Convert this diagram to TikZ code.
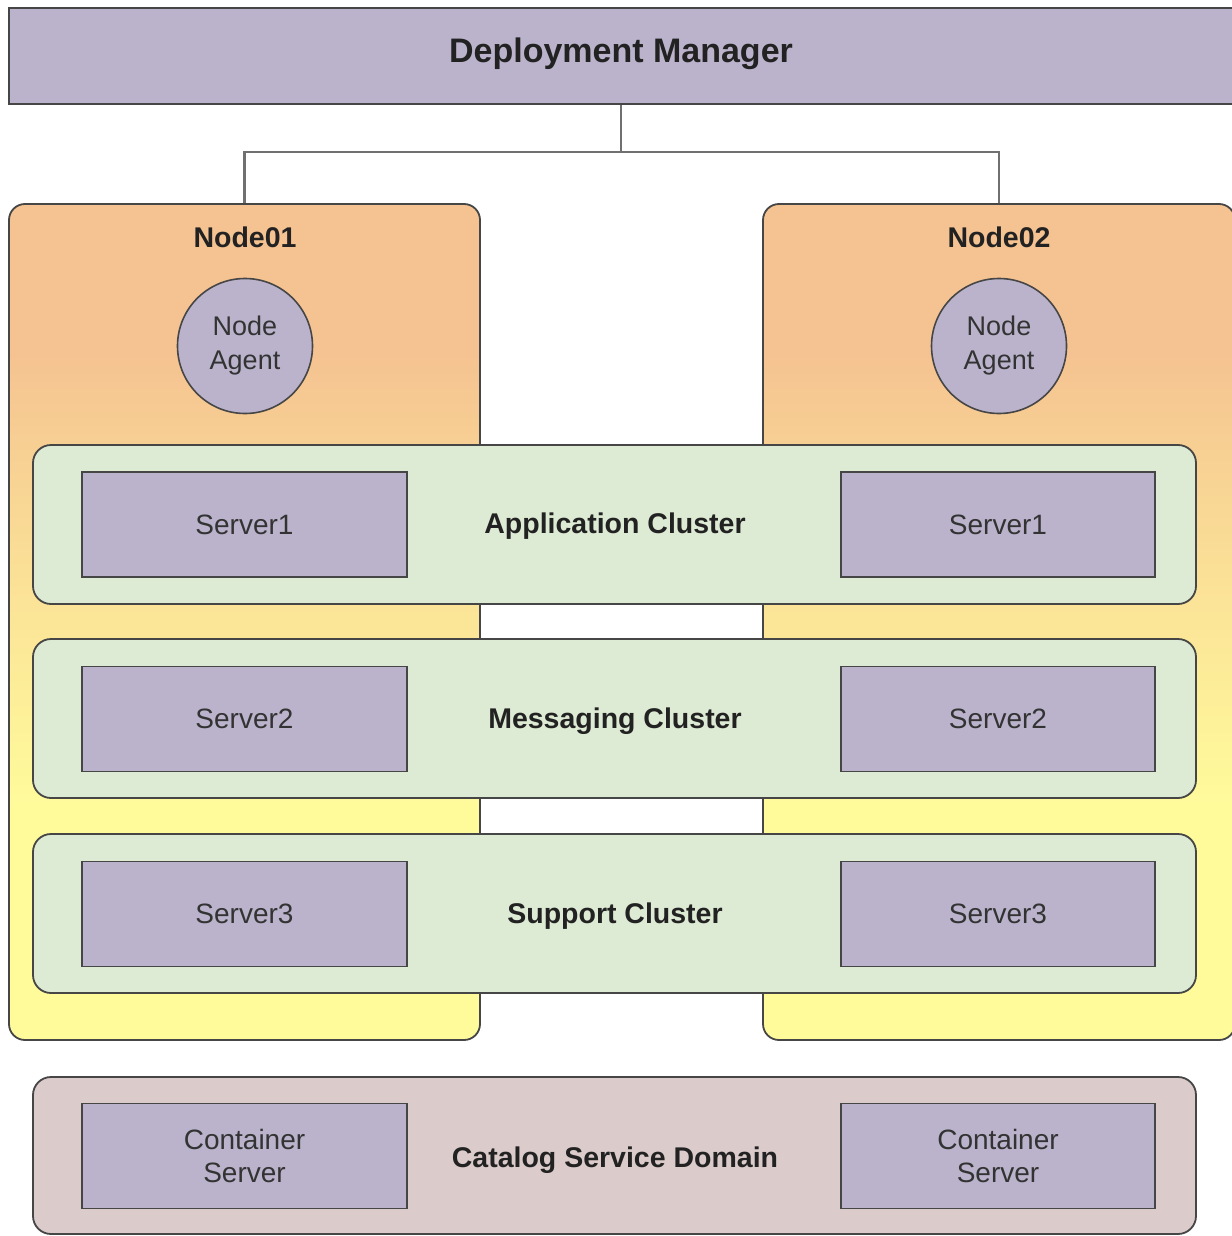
\documentclass[tikz,border=0pt]{standalone}
\usepackage{fontspec}
\setmainfont{Liberation Sans}
\definecolor{purp}{HTML}{BBB3CC}
\definecolor{grn}{HTML}{DEEBD4}
\definecolor{pnk}{HTML}{DCCBCB}
\definecolor{nodeO}{HTML}{F5C391}
\definecolor{nodeY}{HTML}{FFFB9B}
\definecolor{edge}{HTML}{464646}
\definecolor{conn}{HTML}{707070}
\definecolor{txt}{HTML}{333333}
\definecolor{btxt}{HTML}{222222}
\pgfdeclareverticalshading{nodeshade}{100bp}{color(0bp)=(nodeY); color(39bp)=(nodeY); color(52bp)=(nodeY!55!nodeO); color(66bp)=(nodeO); color(100bp)=(nodeO)}
\begin{document}
\begin{tikzpicture}[x=1pt,y=-1pt,
  box/.style={draw=edge, line width=1.8pt, rectangle},
  purpbox/.style={box, fill=purp, inner sep=0pt},
  nodebox/.style={box, rounded corners=16pt, shading=nodeshade, inner sep=0pt},
  clusterbox/.style={box, rounded corners=18pt, fill=grn, inner sep=0pt, minimum width=1163pt, minimum height=159pt},
  serverbox/.style={purpbox, minimum height=105pt, text=txt, font=\fontsize{28}{33}\selectfont, align=center},
  bigbold/.style={font=\fontsize{28.5}{33}\selectfont\bfseries, text=btxt, inner sep=0pt, anchor=base},
  agent/.style={draw=edge, line width=1.6pt, circle, fill=purp, minimum size=135pt, inner sep=0pt, text=txt, font=\fontsize{27}{34}\selectfont, align=center},
  connector/.style={draw=conn, line width=2.4pt}]
\useasboundingbox (0,0) rectangle (1231,1236);
\fill[white] (0,0) rectangle (1231,1236);

% Deployment manager
\node[purpbox, minimum width=1224pt, minimum height=96pt] (dm) at (621,56) {};
\node[font=\fontsize{34}{40}\selectfont\bfseries, text=btxt, anchor=base, inner sep=0pt] (dmlabel) at (621,63) {Deployment Manager};

% Nodes
\node[nodebox, minimum width=471pt, minimum height=836pt] (n1) at (244.5,622) {};
\node[nodebox, minimum width=472pt, minimum height=836pt] (n2) at (999,622) {};

% connectors
\coordinate (j) at (621,152);
\draw[connector] (dm.south) -- (j);
\draw[connector] (n1.north) |- (j) -| (n2.north);

\node[bigbold] (n1label) at (245,247) {Node01};
\node[bigbold] (n2label) at (999,247) {Node02};
\node[agent] (ag1) at (245,346) {Node\\Agent};
\node[agent] (ag2) at (999,346) {Node\\Agent};

% Clusters
\node[clusterbox] (app) at (614.5,524.5) {};
\node[clusterbox] (msg) at (614.5,718.5) {};
\node[clusterbox] (sup) at (614.5,913.5) {};
\node[box, rounded corners=18pt, fill=pnk, minimum width=1163pt, minimum height=157pt] (cat) at (614.5,1155.5) {};

\node[bigbold] (applabel) at (615,533) {Application Cluster};
\node[bigbold] (msglabel) at (615,728) {Messaging Cluster};
\node[bigbold] (suplabel) at (615,923) {Support Cluster};
\node[bigbold] (catlabel) at (615,1167) {Catalog Service Domain};

% Servers
\node[serverbox, minimum width=325pt] (s1l) at (244.5,524.5) {Server1};
\node[serverbox, minimum width=314pt] (s1r) at (998,524.5) {Server1};
\node[serverbox, minimum width=325pt] (s2l) at (244.5,719) {Server2};
\node[serverbox, minimum width=314pt] (s2r) at (998,719) {Server2};
\node[serverbox, minimum width=325pt] (s3l) at (244.5,914) {Server3};
\node[serverbox, minimum width=314pt] (s3r) at (998,914) {Server3};
\node[serverbox, minimum width=325pt] (c1) at (244.5,1156) {Container\\Server};
\node[serverbox, minimum width=314pt] (c2) at (998,1156) {Container\\Server};
\end{tikzpicture}
\end{document}
